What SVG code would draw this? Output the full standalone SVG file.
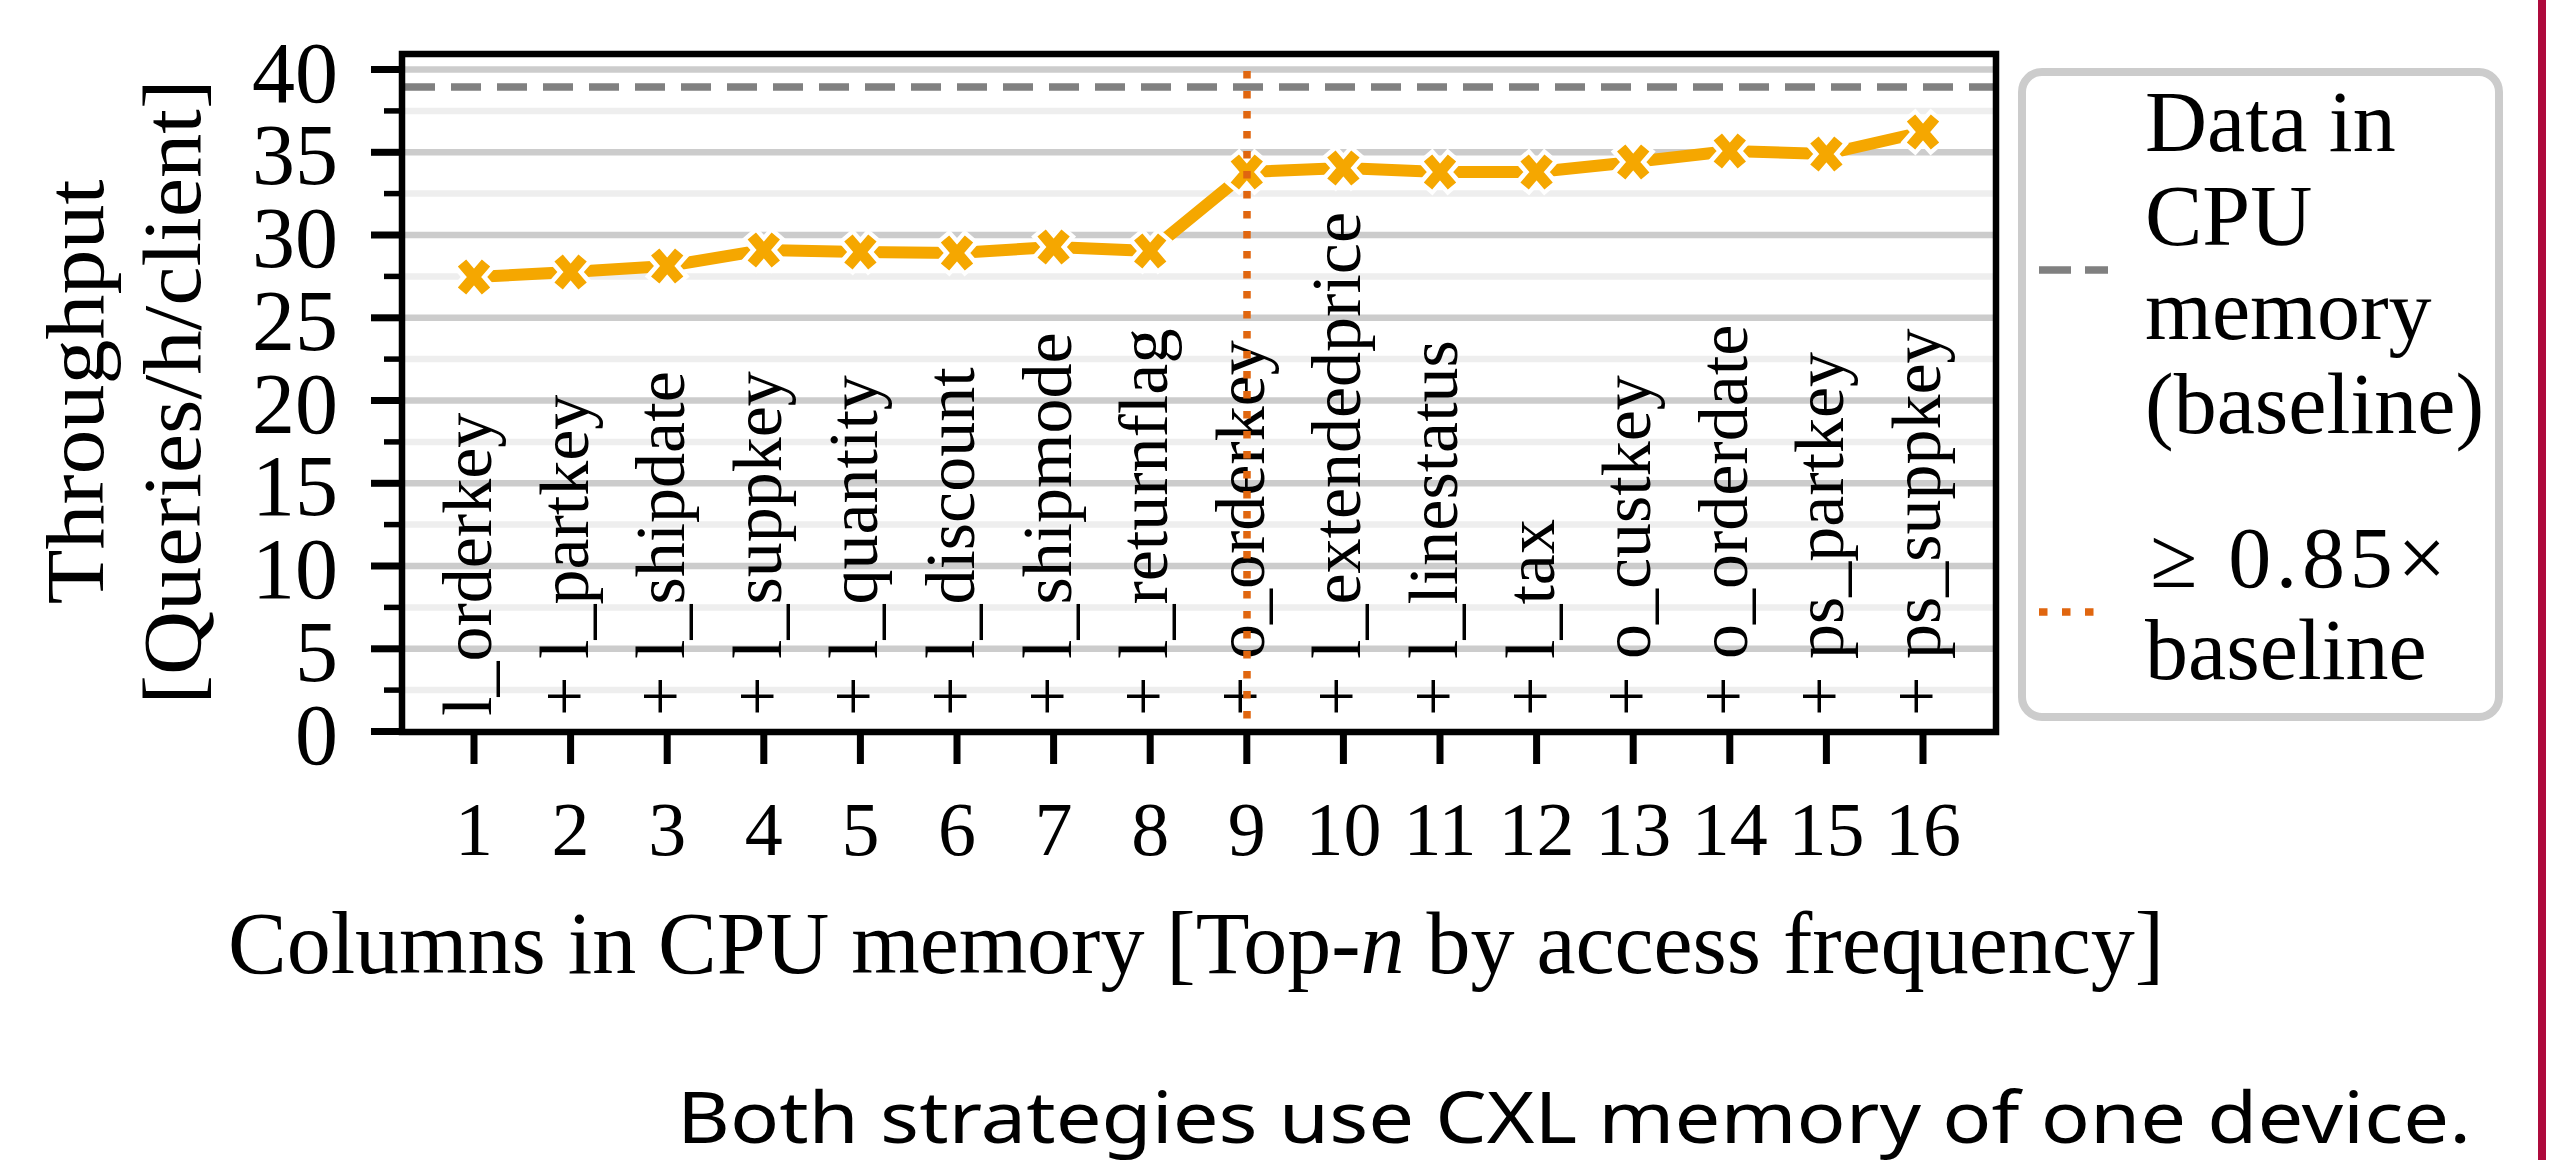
<svg xmlns="http://www.w3.org/2000/svg" width="2556" height="1160" viewBox="0 0 2556 1160">
<style>
.serif{font-family:"Liberation Serif","Times New Roman",serif;fill:#000}
.ytl{font-size:86px;text-anchor:end}
.xtl{font-size:76px;text-anchor:middle}
.col{font-size:70px}
.lg{font-size:86px}
.gmaj{stroke:#cccccc;stroke-width:6.5}
.gmin{stroke:#eeeeee;stroke-width:6.5}
.tmaj{stroke:#000;stroke-width:7}
.tmin{stroke:#000;stroke-width:5.5}
.mw{stroke:#fff;stroke-width:20;stroke-linecap:butt}
.mo{stroke:#f5a700;stroke-width:11;stroke-linecap:butt}
</style>
<defs>
<g id="mk">
<path class="mw" d="M-15,-17 L15,17 M-15,17 L15,-17"/>
<path class="mo" d="M-12,-14 L12,14 M-12,14 L12,-14"/>
</g>
</defs>
<rect width="2556" height="1160" fill="#fff"/>

<g id="grid">
<line class="gmin" x1="402" x2="1996" y1="690.1" y2="690.1"/>
<line class="gmin" x1="402" x2="1996" y1="607.4" y2="607.4"/>
<line class="gmin" x1="402" x2="1996" y1="524.6" y2="524.6"/>
<line class="gmin" x1="402" x2="1996" y1="441.9" y2="441.9"/>
<line class="gmin" x1="402" x2="1996" y1="359.1" y2="359.1"/>
<line class="gmin" x1="402" x2="1996" y1="276.4" y2="276.4"/>
<line class="gmin" x1="402" x2="1996" y1="193.6" y2="193.6"/>
<line class="gmin" x1="402" x2="1996" y1="110.9" y2="110.9"/>
<line class="gmaj" x1="402" x2="1996" y1="648.8" y2="648.8"/>
<line class="gmaj" x1="402" x2="1996" y1="566" y2="566"/>
<line class="gmaj" x1="402" x2="1996" y1="483.3" y2="483.3"/>
<line class="gmaj" x1="402" x2="1996" y1="400.5" y2="400.5"/>
<line class="gmaj" x1="402" x2="1996" y1="317.8" y2="317.8"/>
<line class="gmaj" x1="402" x2="1996" y1="235" y2="235"/>
<line class="gmaj" x1="402" x2="1996" y1="152.3" y2="152.3"/>
<line class="gmaj" x1="402" x2="1996" y1="69.5" y2="69.5"/>
</g>

<g id="baseline">
<line x1="405" x2="1996" y1="87" y2="87" stroke="#808080" stroke-width="7.5" stroke-dasharray="30 16"/>
</g>

<g id="column-labels" class="serif col">
<text transform="translate(491,716) rotate(-90)">l_orderkey</text>
<text transform="translate(588,716) rotate(-90)">+ l_partkey</text>
<text transform="translate(684,716) rotate(-90)">+ l_shipdate</text>
<text transform="translate(781,716) rotate(-90)">+ l_suppkey</text>
<text transform="translate(877,716) rotate(-90)">+ l_quantity</text>
<text transform="translate(974,716) rotate(-90)">+ l_discount</text>
<text transform="translate(1071,716) rotate(-90)">+ l_shipmode</text>
<text transform="translate(1167,716) rotate(-90)">+ l_returnflag</text>
<text transform="translate(1264,716) rotate(-90)">+ o_orderkey</text>
<text transform="translate(1360,716) rotate(-90)">+ l_extendedprice</text>
<text transform="translate(1457,716) rotate(-90)">+ l_linestatus</text>
<text transform="translate(1554,716) rotate(-90)">+ l_tax</text>
<text transform="translate(1650,716) rotate(-90)">+ o_custkey</text>
<text transform="translate(1747,716) rotate(-90)">+ o_orderdate</text>
<text transform="translate(1843,716) rotate(-90)">+ ps_partkey</text>
<text transform="translate(1940,716) rotate(-90)">+ ps_suppkey</text>
</g>

<g id="series">
<polyline fill="none" stroke="#f5a700" stroke-width="12" stroke-linejoin="round" points="474,277 570.6,272 667.2,266 763.8,250 860.4,252 957,253 1053.6,247 1150.2,251 1246.8,172 1343.4,168 1440,172 1536.6,172 1633.2,162 1729.8,151 1826.4,154 1923,132"/>
<use href="#mk" x="474" y="277"/>
<use href="#mk" x="570.6" y="272"/>
<use href="#mk" x="667.2" y="266"/>
<use href="#mk" x="763.8" y="250"/>
<use href="#mk" x="860.4" y="252"/>
<use href="#mk" x="957" y="253"/>
<use href="#mk" x="1053.6" y="247"/>
<use href="#mk" x="1150.2" y="251"/>
<use href="#mk" x="1246.8" y="172"/>
<use href="#mk" x="1343.4" y="168"/>
<use href="#mk" x="1440" y="172"/>
<use href="#mk" x="1536.6" y="172"/>
<use href="#mk" x="1633.2" y="162"/>
<use href="#mk" x="1729.8" y="151"/>
<use href="#mk" x="1826.4" y="154"/>
<use href="#mk" x="1923" y="132"/>
</g>

<g id="threshold">
<line x1="1247" x2="1247" y1="71" y2="732" stroke="#e0660f" stroke-width="7.5" stroke-dasharray="7.5 12.5"/>
</g>

<g id="axes">
<rect x="402" y="54" width="1594" height="678" fill="none" stroke="#000" stroke-width="6.5"/>
<g id="yticks">
<line class="tmaj" x1="371" x2="402" y1="731.5" y2="731.5"/>
<line class="tmaj" x1="371" x2="402" y1="648.8" y2="648.8"/>
<line class="tmaj" x1="371" x2="402" y1="566" y2="566"/>
<line class="tmaj" x1="371" x2="402" y1="483.3" y2="483.3"/>
<line class="tmaj" x1="371" x2="402" y1="400.5" y2="400.5"/>
<line class="tmaj" x1="371" x2="402" y1="317.8" y2="317.8"/>
<line class="tmaj" x1="371" x2="402" y1="235" y2="235"/>
<line class="tmaj" x1="371" x2="402" y1="152.3" y2="152.3"/>
<line class="tmaj" x1="371" x2="402" y1="69.5" y2="69.5"/>
<line class="tmin" x1="384" x2="402" y1="690.1" y2="690.1"/>
<line class="tmin" x1="384" x2="402" y1="607.4" y2="607.4"/>
<line class="tmin" x1="384" x2="402" y1="524.6" y2="524.6"/>
<line class="tmin" x1="384" x2="402" y1="441.9" y2="441.9"/>
<line class="tmin" x1="384" x2="402" y1="359.1" y2="359.1"/>
<line class="tmin" x1="384" x2="402" y1="276.4" y2="276.4"/>
<line class="tmin" x1="384" x2="402" y1="193.6" y2="193.6"/>
<line class="tmin" x1="384" x2="402" y1="110.9" y2="110.9"/>
</g>
<g id="xticks">
<path stroke="#000" stroke-width="7" d="M474,732V764 M570.6,732V764 M667.2,732V764 M763.8,732V764 M860.4,732V764 M957,732V764 M1053.6,732V764 M1150.2,732V764 M1246.8,732V764 M1343.4,732V764 M1440,732V764 M1536.6,732V764 M1633.2,732V764 M1729.8,732V764 M1826.4,732V764 M1923,732V764"/>
</g>
<g id="ytick-labels" class="serif ytl">
<text x="338" y="764">0</text>
<text x="338" y="681">5</text>
<text x="338" y="598">10</text>
<text x="338" y="515">15</text>
<text x="338" y="433">20</text>
<text x="338" y="350">25</text>
<text x="338" y="267">30</text>
<text x="338" y="184">35</text>
<text x="338" y="102">40</text>
</g>
<g id="xtick-labels" class="serif xtl">
<text x="474" y="855">1</text>
<text x="570.6" y="855">2</text>
<text x="667.2" y="855">3</text>
<text x="763.8" y="855">4</text>
<text x="860.4" y="855">5</text>
<text x="957" y="855">6</text>
<text x="1053.6" y="855">7</text>
<text x="1150.2" y="855">8</text>
<text x="1246.8" y="855">9</text>
<text x="1343.4" y="855">10</text>
<text x="1440" y="855">11</text>
<text x="1536.6" y="855">12</text>
<text x="1633.2" y="855">13</text>
<text x="1729.8" y="855">14</text>
<text x="1826.4" y="855">15</text>
<text x="1923" y="855">16</text>
</g>
<g id="axis-titles" class="serif">
<text x="228" y="973" font-size="88" textLength="1936" lengthAdjust="spacingAndGlyphs">Columns in CPU memory [Top-<tspan font-style="italic">n</tspan> by access frequency]</text>
<text transform="translate(103,392) rotate(-90)" font-size="82" text-anchor="middle" textLength="425" lengthAdjust="spacingAndGlyphs">Throughput</text>
<text transform="translate(200,392) rotate(-90)" font-size="82" text-anchor="middle" textLength="625" lengthAdjust="spacingAndGlyphs">[Queries/h/client]</text>
</g>
</g>

<g id="legend">
<rect x="2022" y="72" width="477" height="645" rx="20" ry="20" fill="#fff" stroke="#cccccc" stroke-width="8"/>
<line x1="2039" x2="2108" y1="270" y2="270" stroke="#808080" stroke-width="7.5" stroke-dasharray="32 14"/>
<line x1="2039" x2="2108" y1="612" y2="612" stroke="#e0660f" stroke-width="7.5" stroke-dasharray="8.5 14.5"/>
<g class="serif lg">
<text x="2145" y="151">Data in</text>
<text x="2145" y="245">CPU</text>
<text x="2145" y="339">memory</text>
<text x="2145" y="433">(baseline)</text>
<text x="2150" y="587" textLength="296">≥ 0.85×</text>
<text x="2145" y="679">baseline</text>
</g>
</g>

<g id="caption">
<text x="677" y="1143" font-family="'Noto Sans','Open Sans',sans-serif" font-size="72" fill="#000" textLength="1794" lengthAdjust="spacingAndGlyphs">Both strategies use CXL memory of one device.</text>
</g>

<rect id="margin-rule" x="2538" y="0" width="8" height="1160" fill="#ae0a3c"/>
</svg>
